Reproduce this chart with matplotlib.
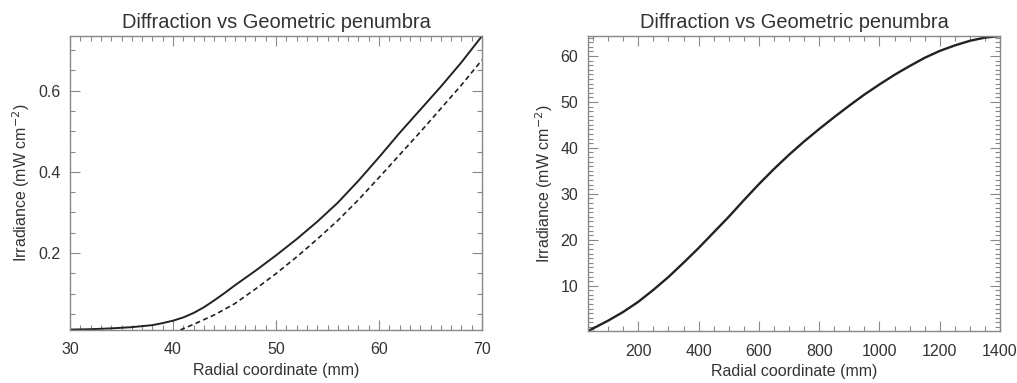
import numpy as np
import matplotlib
matplotlib.use("Agg")
import matplotlib.pyplot as plt
from matplotlib.ticker import MultipleLocator

plt.rcParams['font.family'] = ['Liberation Sans', 'DejaVu Sans']

TITLE = "Diffraction vs Geometric penumbra"
XLABEL = "Radial coordinate (mm)"
YLABEL = "Irradiance (mW cm$^{-2}$)"

# left panel: diffraction (solid) vs geometric (dashed)
left_x_diff = [30, 32, 34, 36, 38, 39, 40, 41, 42, 43, 44, 45, 46, 47, 48, 49,
               50, 52, 54, 56, 58, 60, 62, 64, 66, 68, 70]
left_y_diff = [0.011, 0.012, 0.014, 0.017, 0.022, 0.027, 0.033, 0.041, 0.052,
               0.066, 0.083, 0.101, 0.120, 0.138, 0.156, 0.175, 0.194, 0.234,
               0.277, 0.324, 0.378, 0.436, 0.496, 0.553, 0.610, 0.670, 0.735]
left_x_geom = [40.7, 42, 44, 46, 48, 50, 52, 54, 56, 58, 60, 62, 64, 66, 68, 70]
left_y_geom = [0.010, 0.024, 0.047, 0.075, 0.111, 0.149, 0.190, 0.234, 0.280,
               0.331, 0.386, 0.442, 0.498, 0.556, 0.614, 0.676]

# right panel
right_x = [33, 50, 100, 150, 200, 250, 300, 350, 400, 450, 500, 550, 600,
           650, 700, 750, 800, 850, 900, 950, 1000, 1050, 1100, 1150, 1200,
           1250, 1300, 1350, 1400]
right_y = [0.14, 0.7, 2.4, 4.3, 6.5, 9.1, 11.9, 15.0, 18.2, 21.6, 25.0, 28.6,
           32.1, 35.4, 38.5, 41.4, 44.1, 46.7, 49.2, 51.6, 53.8, 55.9, 57.8,
           59.6, 61.1, 62.3, 63.3, 64.0, 64.35]

TXT = "#333333"
LINE = "#222222"

fig = plt.figure(figsize=(10.17, 3.83), dpi=100)
ax1 = fig.add_axes([70 / 1017, 1 - 330 / 383, 412 / 1017, 294 / 383])
ax2 = fig.add_axes([588 / 1017, 1 - 331 / 383, 412 / 1017, 295 / 383])


def style(ax):
    for s in ax.spines.values():
        s.set_color("#888888")
        s.set_linewidth(1.0)
    ax.tick_params(which="both", direction="in", top=True, right=True,
                   colors="#888888", labelcolor=TXT, labelsize=11.5)
    ax.tick_params(which="major", length=7, width=0.8)
    ax.tick_params(which="minor", length=3.5, width=0.8)
    ax.tick_params(axis="x", which="major", pad=9)
    ax.tick_params(axis="y", which="major", pad=7)
    ax.set_title(TITLE, fontsize=14.4, color=TXT, pad=6)
    ax.set_xlabel(XLABEL, fontsize=11.5, color=TXT, labelpad=4)
    ax.set_ylabel(YLABEL, fontsize=11.5, color=TXT, labelpad=4)


ax1.plot(left_x_diff, left_y_diff, color=LINE, lw=1.4)
ax1.plot(left_x_geom, left_y_geom, color=LINE, lw=1.2, ls=(0, (3, 2)))
ax1.set_xlim(30, 70)
ax1.set_ylim(0.01, 0.735)
ax1.xaxis.set_major_locator(MultipleLocator(10))
ax1.xaxis.set_minor_locator(MultipleLocator(1))
ax1.set_yticks([0.2, 0.4, 0.6])
ax1.yaxis.set_minor_locator(MultipleLocator(0.05))
style(ax1)

ax2.plot(right_x, right_y, color=LINE, lw=1.7)
ax2.set_xlim(33, 1400)
ax2.set_ylim(0.14, 64.35)
ax2.set_xticks([200, 400, 600, 800, 1000, 1200, 1400])
ax2.xaxis.set_minor_locator(MultipleLocator(50))
ax2.set_yticks([10, 20, 30, 40, 50, 60])
ax2.yaxis.set_minor_locator(MultipleLocator(1))
style(ax2)

fig.savefig("out.png", dpi=100)
